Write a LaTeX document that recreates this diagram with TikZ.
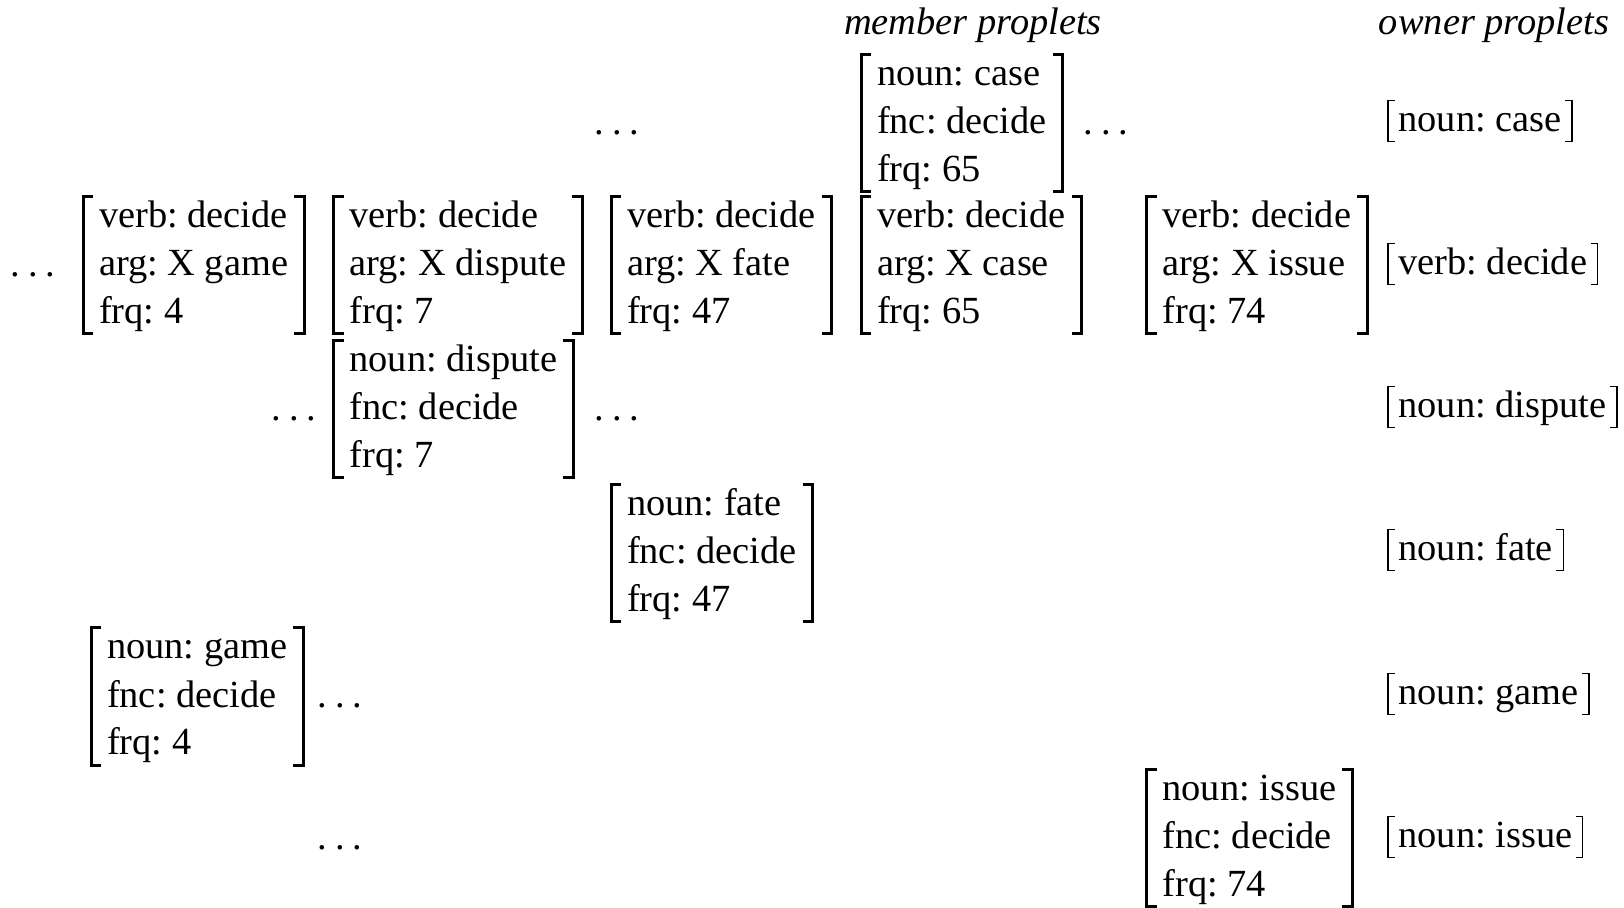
\documentclass[tikz,border=0pt]{standalone}
\usepackage{fontspec}
\setmainfont{Liberation Serif}
\frenchspacing
\newcommand{\avmtext}[3]{\rule{0pt}{15.5pt}#1\\#2\\#3\rule[-5pt]{0pt}{5pt}}
\newcommand{\owntext}[1]{\rule{0pt}{15.5pt}#1\rule[-4.5pt]{0pt}{4.5pt}}
\newcommand{\spdots}{.\kern0.2em.\kern0.2em.}
\newcommand{\avmbrackets}[1]{%
  \draw[brk] ([xshift=5pt]#1.north west) -- (#1.north west) -- (#1.south west) -- ([xshift=5pt]#1.south west);
  \draw[brk] ([xshift=-5pt]#1.north east) -- (#1.north east) -- (#1.south east) -- ([xshift=-5pt]#1.south east);}
\newcommand{\ownbrackets}[1]{%
  \draw[obrk] ([xshift=3.5pt]#1.north west) -- (#1.north west) -- (#1.south west) -- ([xshift=3.5pt]#1.south west);
  \draw[obrk] ([xshift=-3.5pt]#1.north east) -- (#1.north east) -- (#1.south east) -- ([xshift=-3.5pt]#1.south east);}
\begin{document}
\begin{tikzpicture}[x=0.5pt,y=-0.5pt,
  font=\fontsize{19.2pt}{24pt}\selectfont,
  avm/.style={anchor=west, align=left, inner xsep=7.8pt, inner ysep=0pt},
  own/.style={anchor=west, align=left, inner xsep=5pt, inner ysep=0pt},
  brk/.style={line width=1.5pt},
  obrk/.style={line width=0.8pt},
  dts/.style={inner sep=0pt, anchor=base},
  hdr/.style={inner sep=0pt, font=\fontsize{19.2pt}{24pt}\selectfont\itshape}]
\useasboundingbox (0,0) rectangle (1624,908);

% headers
\node[hdr] (hmember) at (973,25) {member proplets};
\node[hdr] (howner) at (1494,25) {owner proplets};

% row 1
\node[avm] (case1) at (861,123) {\avmtext{noun: case}{fnc: decide}{frq: 65}};
\avmbrackets{case1}
\node[dts] (d1a) at (617,134.5) {\spdots};
\node[dts] (d1b) at (1106,134.5) {\spdots};

% row 2
\node[avm] (vgame) at (83,265) {\avmtext{verb: decide}{arg: X game}{frq: 4}};
\avmbrackets{vgame}
\node[avm] (vdispute) at (333.5,265) {\avmtext{verb: decide}{arg: X dispute}{frq: 7}};
\avmbrackets{vdispute}
\node[avm] (vfate) at (611,265) {\avmtext{verb: decide}{arg: X fate}{frq: 47}};
\avmbrackets{vfate}
\node[avm] (vcase) at (861,265) {\avmtext{verb: decide}{arg: X case}{frq: 65}};
\avmbrackets{vcase}
\node[avm] (vissue) at (1146.5,265) {\avmtext{verb: decide}{arg: X issue}{frq: 74}};
\avmbrackets{vissue}
\node[dts] (d2a) at (33,276.5) {\spdots};

% row 3
\node[avm] (ndispute) at (333.5,409) {\avmtext{noun: dispute}{fnc: decide}{frq: 7}};
\avmbrackets{ndispute}
\node[dts] (d3a) at (294,420.5) {\spdots};
\node[dts] (d3b) at (617,420.5) {\spdots};

% row 4
\node[avm] (nfate) at (611,553) {\avmtext{noun: fate}{fnc: decide}{frq: 47}};
\avmbrackets{nfate}

% row 5
\node[avm] (ngame) at (91,696.5) {\avmtext{noun: game}{fnc: decide}{frq: 4}};
\avmbrackets{ngame}
\node[dts] (d5a) at (340,708) {\spdots};

% row 6
\node[avm] (nissue) at (1146.5,838) {\avmtext{noun: issue}{fnc: decide}{frq: 74}};
\avmbrackets{nissue}
\node[dts] (d6a) at (340,849.5) {\spdots};

% owner proplets
\node[own] (ocase) at (1388,121) {\owntext{noun: case}};
\ownbrackets{ocase}
\node[own] (overb) at (1388,264) {\owntext{verb: decide}};
\ownbrackets{overb}
\node[own] (odispute) at (1388,407) {\owntext{noun: dispute}};
\ownbrackets{odispute}
\node[own] (ofate) at (1388,550) {\owntext{noun: fate}};
\ownbrackets{ofate}
\node[own] (ogame) at (1388,694) {\owntext{noun: game}};
\ownbrackets{ogame}
\node[own] (oissue) at (1388,837) {\owntext{noun: issue}};
\ownbrackets{oissue}
\end{tikzpicture}
\end{document}
